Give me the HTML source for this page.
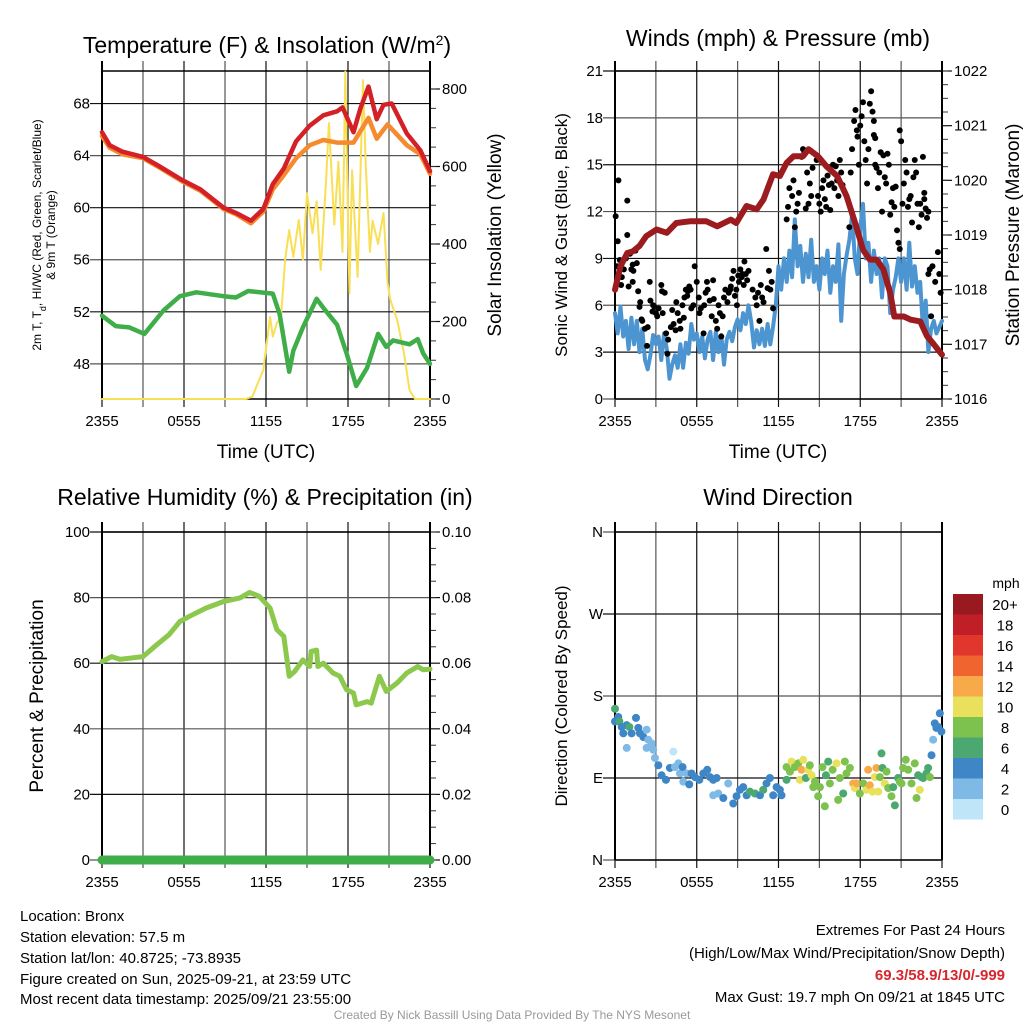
<!DOCTYPE html>
<html><head><meta charset="utf-8"><style>
html,body{margin:0;padding:0;background:#fff;}
svg{display:block;font-family:"Liberation Sans",sans-serif;}
</style></head><body>
<svg id="c" width="1024" height="1024" viewBox="0 0 1024 1024" xmlns="http://www.w3.org/2000/svg">
<rect width="1024" height="1024" fill="#fff"/>
<text x="267" y="53" font-size="23" text-anchor="middle">Temperature (F) &amp; Insolation (W/m<tspan baseline-shift="super" font-size="14">2</tspan>)</text>
<text x="778" y="46" font-size="23" text-anchor="middle">Winds (mph) &amp; Pressure (mb)</text>
<text x="265" y="505" font-size="23" text-anchor="middle">Relative Humidity (%) &amp; Precipitation (in)</text>
<text x="778" y="505" font-size="23" text-anchor="middle">Wind Direction</text>
<text x="266" y="458" font-size="19" text-anchor="middle">Time (UTC)</text>
<text x="778" y="458" font-size="19" text-anchor="middle">Time (UTC)</text>
<text font-size="12" text-anchor="middle" transform="translate(41,235) rotate(-90)">2m T, T<tspan baseline-shift="sub" font-size="9">d</tspan>, HI/WC (Red, Green, Scarlet/Blue)</text>
<text font-size="12" text-anchor="middle" transform="translate(55,235) rotate(-90)">&amp; 9m T (Orange)</text>
<text font-size="19" text-anchor="middle" transform="translate(501,235) rotate(-90)">Solar Insolation (Yellow)</text>
<text font-size="17" text-anchor="middle" transform="translate(567,235) rotate(-90)">Sonic Wind &amp; Gust (Blue, Black)</text>
<text font-size="19" text-anchor="middle" transform="translate(1019,235) rotate(-90)">Station Pressure (Maroon)</text>
<text font-size="19" text-anchor="middle" transform="translate(43,696) rotate(-90)">Percent &amp; Precipitation</text>
<text font-size="17" text-anchor="middle" transform="translate(567,696) rotate(-90)">Direction (Colored By Speed)</text>
<g font-size="15">
<text x="20" y="921">Location: Bronx</text>
<text x="20" y="942">Station elevation: 57.5 m</text>
<text x="20" y="963">Station lat/lon: 40.8725; -73.8935</text>
<text x="20" y="984">Figure created on Sun, 2025-09-21, at 23:59 UTC</text>
<text x="20" y="1004">Most recent data timestamp: 2025/09/21 23:55:00</text>
</g>
<g font-size="15" text-anchor="end">
<text x="1005" y="935">Extremes For Past 24 Hours</text>
<text x="1005" y="958">(High/Low/Max Wind/Precipitation/Snow Depth)</text>
<text x="1005" y="980" fill="#d7262c" font-weight="bold">69.3/58.9/13/0/-999</text>
<text x="1005" y="1002">Max Gust: 19.7 mph On 09/21 at 1845 UTC</text>
</g>
<text x="512" y="1019" font-size="12" fill="#999" text-anchor="middle">Created By Nick Bassill Using Data Provided By The NYS Mesonet</text>
</svg>
<script>
// ---- data ----
const xTickLabels = ["2355","0555","1155","1755","2355"];
const tempTicks = [48,52,56,60,64,68];
const solarTicks = [0,200,400,600,800];
const windTicks = [0,3,6,9,12,15,18,21];
const presTicks = [1016,1017,1018,1019,1020,1021,1022];
const rhTicks = [0,20,40,60,80,100];
const precTicks = ["0.00","0.02","0.04","0.06","0.08","0.10"];
const dirTicks = ["N","E","S","W","N"];
const speedBins = ["0","2","4","6","8","10","12","14","16","18","20+"];
const speedColors = ["#bfe5f8","#7fb9e6","#3e86c6","#4aa870","#7dc24e","#e9e05c","#f8aa4a","#f0652f","#e0362b","#c01f28","#981a1e"];

const tRedT = [0,0.56,1.5,3,4,5.9,7.2,8.9,9.8,10.9,11.8,12.5,13.3,14.2,15.2,16.2,17.2,17.6,18.4,18.9,19.5,20.1,20.6,21.2,22.3,23.3,24];
const tRedV = [65.8,64.8,64.3,63.9,63.3,62.1,61.4,60.0,59.6,59.0,59.9,61.8,63.0,65.1,66.3,67.1,67.4,67.7,65.8,67.6,69.3,66.8,67.9,68.0,65.7,64.4,62.8];
const tOrT = [0,0.56,1.5,3,4,5.9,7.2,8.9,9.8,10.9,11.8,12.5,13.3,14.2,15.2,16.2,17.2,18.4,19.5,20.1,20.9,22.3,23.3,24];
const tOrV = [65.5,64.6,64.1,63.8,63.2,62.0,61.3,59.9,59.5,58.8,59.7,61.4,62.5,63.8,64.8,65.2,65.0,65.0,66.9,65.3,66.4,64.8,64.1,62.6];
const tGrT = [0,1,2,3.1,4.5,5.7,6.9,8.9,9.8,10.7,12.5,13,13.7,14,14.7,15.7,16.2,17.2,17.9,18.6,19.4,20.2,20.8,21.3,22.5,23.1,23.5,24];
const tGrV = [51.7,50.9,50.8,50.3,52.1,53.2,53.5,53.2,53.1,53.6,53.4,51.8,47.4,49.0,50.8,53.0,52.3,51.0,48.8,46.3,47.7,50.3,49.3,49.8,49.5,49.9,48.8,48.0];
const solT = [0,10.5,11.0,11.8,12.3,12.5,12.8,13.1,13.4,13.7,14.0,14.4,14.7,15.0,15.4,15.7,16.0,16.4,16.6,17.0,17.3,17.6,17.8,18.1,18.3,18.7,19.1,19.3,19.6,19.8,20.2,20.6,20.9,21.1,21.6,22.1,22.5,22.9,24];
const solV = [0,0,6,75,212,161,196,212,359,436,367,462,359,531,428,510,333,565,712,450,612,380,845,273,590,315,823,600,380,460,400,480,300,255,204,118,23,0,0];

const presT = [0,0.4,0.9,1.3,1.8,2.3,3.05,3.8,4.5,5.5,6.7,7.5,8.5,8.9,9.65,10.4,10.9,11.6,12.1,12.6,13.1,13.8,14.2,14.9,15.5,16.3,17,17.7,18.2,18.7,19.2,19.7,20.2,20.5,21.2,21.7,22.4,22.9,23.4,24];
const presV = [1018.0,1018.43,1018.67,1018.70,1018.80,1018.98,1019.10,1019.04,1019.22,1019.25,1019.25,1019.16,1019.28,1019.22,1019.53,1019.47,1019.65,1020.11,1020.08,1020.32,1020.44,1020.44,1020.57,1020.44,1020.26,1020.08,1019.71,1019.16,1018.73,1018.55,1018.55,1018.37,1017.94,1017.51,1017.51,1017.45,1017.42,1017.15,1017.0,1016.81];
const windV = [5.5,4.2,5.9,4.0,5.0,3.2,5.2,3.5,5.0,3.0,4.5,2.5,1.9,2.8,4.1,3.5,4.0,2.5,4.2,3.2,1.3,2.2,2.8,2.0,3.5,2.0,3.6,2.9,4.8,3.8,4.2,3.0,4.0,2.6,3.8,4.3,2.5,4.3,3.0,4.1,2.2,3.8,4.3,3.7,4.6,5.1,4.4,5.5,4.8,6.0,4.9,3.3,4.4,3.5,4.5,3.4,4.8,3.5,4.6,6.0,8.5,7.0,9.0,7.5,9.5,7.8,11.5,8.5,9.8,7.5,9.3,7.8,10.2,7.5,8.5,7.0,9.0,8.0,9.5,6.8,8.5,7.5,9.9,5.0,8.0,9.2,10.2,11.8,9.0,8.0,11.0,12.5,9.0,10.0,7.5,9.5,8.0,9.0,6.5,9.0,8.5,5.5,7.0,7.8,9.0,7.5,9.0,7.0,10.0,7.2,8.5,6.8,7.5,4.5,6.3,3.0,4.5,5.0,4.2,4.6,5.0];
const gustT = [0.05,0.15,0.25,0.2,0.35,0.45,0.5,0.65,0.9,0.8,0.9,1.0,1.1,1.2,1.3,1.35,1.3,1.5,1.6,1.7,1.8,1.85,1.95,2.0,2.35,2.2,2.4,2.55,2.6,2.75,2.8,2.9,3.0,3.1,3.2,3.4,3.45,3.65,3.5,3.75,3.9,3.85,4.1,4.2,4.3,4.5,4.6,4.45,4.75,4.8,4.95,5.05,5.1,5.2,5.3,5.35,5.45,5.55,5.6,5.75,5.85,6.0,6.15,6.2,6.3,6.5,6.55,6.65,6.75,6.8,6.95,7.1,7.2,7.25,7.4,7.5,7.6,7.7,7.8,7.9,8.0,8.1,8.25,8.35,8.45,8.5,8.6,8.7,8.8,8.9,8.95,9.05,9.1,9.2,9.3,9.35,9.45,9.5,9.6,9.7,9.8,10.1,10.3,10.4,10.5,10.6,10.7,10.8,10.9,11.1,11.2,11.3,11.4,11.5,11.6,
12.6,12.7,12.8,13.0,13.1,13.2,13.3,13.4,13.5,13.7,13.8,13.9,14.0,14.1,14.2,14.3,14.4,14.5,
14.8,14.9,15.0,15.1,15.2,15.3,15.4,15.5,15.6,15.7,15.8,15.9,16.0,16.1,16.2,16.3,16.4,16.5,16.6,16.7,
17.2,17.3,17.4,17.55,17.65,17.75,17.8,17.9,18.0,18.1,18.2,18.3,18.4,18.5,18.6,18.7,18.8,18.9,19.0,19.1,
19.0,19.1,19.2,19.3,19.4,19.5,19.6,19.7,19.8,19.9,20.0,20.1,20.2,20.3,20.4,20.5,20.6,20.7,20.8,20.9,
20.9,21.0,21.1,21.2,21.3,21.4,21.5,21.6,21.7,21.8,21.9,22.0,22.1,22.2,22.3,22.4,22.5,22.6,22.7,
22.7,22.8,22.9,23.0,23.0,23.1,23.3,23.2,23.5,23.7,23.8,23.9];
const gustV = [11.7,8.5,14.0,10.1,8.9,7.3,7.8,8.3,12.7,9.0,10.5,7.2,9.3,8.3,8.6,8.2,7.5,9.5,8.7,6.9,5.9,6.2,5.1,5.0,3.4,4.5,4.6,7.5,6.3,5.6,6.0,5.9,5.5,5.3,5.8,7.3,6.9,6.8,5.5,4.2,3.8,2.9,4.6,5.7,4.8,6.2,5.5,4.4,5.0,4.5,6.0,5.2,6.5,7.0,6.6,6.9,7.2,7.0,5.8,6.0,8.5,7.5,6.5,5.5,5.8,4.2,6.0,6.8,7.5,7.0,6.3,5.3,7.6,6.4,5.0,4.5,6.0,5.5,4.0,5.3,6.5,7.0,6.2,6.8,7.0,7.2,7.7,8.2,6.6,7.0,6.0,7.9,7.5,8.3,7.8,8.0,7.3,8.8,8.0,7.6,8.2,7.0,6.5,6.0,6.8,5.0,7.3,6.5,6.2,9.6,7.1,8.2,7.0,7.5,5.8,11.5,12.3,13.5,13.0,14.0,11.0,12.0,12.5,13.2,15.5,16.0,15.8,12.2,14.5,12.5,13.8,13.0,14.8,15.3,13.0,12.5,12.0,13.5,14.0,12.8,12.3,14.3,13.7,12.1,13.8,15.0,13.5,14.9,14.0,13.0,15.3,14.5,13.7,11.0,14.5,16.0,17.8,18.5,17.2,16.8,15.0,17.5,18.1,19.0,16.5,15.3,13.8,16.0,18.9,19.7,18.4,17.8,16.7,16.9,15.0,14.8,13.5,14.5,15.8,12.0,15.6,14.2,13.8,15.7,15.0,11.8,12.6,13.5,12.3,13.6,10.8,10.0,9.6,17.2,16.5,12.5,13.8,15.3,14.5,12.3,12.8,13.0,11.3,14.2,15.3,14.5,12.5,11.0,12.5,11.8,15.5,13.2,12.8,12.2,11.6,12.0,8.0,8.3,8.5,5.3,7.5,9.4,8.0,6.8];

const rhT = [0,0.7,1.3,3,4,4.9,5.7,6.4,7.6,8.9,10.1,10.8,11.5,12.3,12.8,13.3,13.7,14.1,14.7,15.2,15.3,15.7,15.8,16.2,16.9,17.4,17.9,18.4,18.6,19.4,19.7,20.3,20.8,21.6,22.3,23.1,23.5,24];
const rhV = [60.5,62,61.2,62,65.6,68.7,72.7,74.3,76.8,78.8,79.9,81.6,80.4,76.8,70.2,68.2,56,57.5,61,59,63.6,64,59,60,57,56,51.9,50.9,47.3,48.3,47.8,56,51.4,54,57,59,58,58.2];
const precT = [0,24];
const precV = [0,0];

const dirT = [0,0,0.24,0.32,0.49,0.61,0.86,1.05,0.86,1.22,1.54,1.71,1.83,2.08,2.32,2.44,2.32,2.69,2.81,2.93,3.18,3.42,3.74,4.03,4.28,4.40,4.65,4.77,4.96,5.01,5.26,5.45,5.62,5.87,6.19,6.48,6.77,6.97,7.21,7.46,7.21,7.58,7.95,8.31,8.68,8.92,9.17,9.41,9.66,9.90,10.27,10.64,10.88,11.12,11.37,11.61,11.86,12.10,12.22,12.59,12.59,12.84,12.96,13.20,13.45,13.57,13.69,13.81,14.01,14.18,14.30,14.43,14.55,14.67,14.91,15.04,15.23,15.40,15.48,15.65,15.77,15.97,16.26,16.38,16.50,16.75,16.87,16.99,17.24,17.48,17.60,17.73,17.97,18.22,18.46,18.58,18.70,18.90,19.07,19.19,19.32,19.44,19.56,19.63,19.80,19.93,20.05,20.29,20.42,20.54,20.78,20.90,21.03,21.15,21.34,21.52,21.76,22.00,22.13,22.25,22.37,22.49,22.62,22.86,22.98,23.11,23.23,23.35,23.47,23.59,23.72,23.84,23.96];
const dirV = [166,152,157,152,146,139,148,146,123,139,156,145,139,135,143,132,123,128,121,112,104,93,88,101,119,102,106,95,102,86,95,83,95,91,88,95,99,91,88,90,71,73,68,84,62,70,77,80,71,75,73,71,77,84,90,71,80,77,71,88,102,97,108,102,106,88,99,110,90,99,104,93,80,86,70,80,102,59,93,108,84,99,106,66,90,73,108,95,101,84,79,84,73,84,77,99,82,75,91,101,75,91,117,101,84,97,79,70,80,60,90,86,84,101,110,99,84,106,68,93,77,91,90,95,101,91,115,132,150,145,146,161,141];
const dirS = [6,4,4,6,4,4,4,6,2,4,4,4,4,4,2,2,2,2,2,2,4,4,4,4,0,2,2,2,4,2,2,4,4,4,4,4,4,4,4,4,2,2,4,2,4,4,4,4,4,6,6,4,6,4,4,4,4,4,4,6,8,8,10,8,8,10,12,10,6,10,8,10,8,8,8,8,8,8,6,6,8,8,10,8,8,6,8,8,8,12,10,12,8,8,10,12,12,10,10,12,10,8,6,6,10,8,8,8,6,6,6,8,8,8,8,8,8,8,8,6,10,6,6,6,6,8,4,2,4,4,4,4,4];

// ---- drawing ----
const svg = document.getElementById('c');
const NS = 'http://www.w3.org/2000/svg';
function mk(tag, attrs, parent){const e=document.createElementNS(NS,tag);for(const k in attrs)e.setAttribute(k,attrs[k]);(parent||svg).appendChild(e);return e;}
function txt(x,y,s,size,anchor,parent){const e=mk('text',{x:x,y:y,'font-size':size,'text-anchor':anchor},parent);e.textContent=s;return e;}

const P = {
 temp:{l:102,r:430,t:71,b:399},
 wind:{l:615,r:942,t:71,b:399},
 rh:{l:102,r:430,t:532,b:860},
 dir:{l:615,r:942,t:532,b:860}
};
function xs(p,t){return p.l+(t/24)*(p.r-p.l);}
function lin(p,v,lo,hi){return p.b-(v-lo)/(hi-lo)*(p.b-p.t);}
const yTemp=v=>lin(P.temp,v,45.3,70.5);
const ySol=v=>lin(P.temp,v,0,800*(399-71)/(399-89));
const yWind=v=>lin(P.wind,v,0,21);
const yPres=v=>lin(P.wind,v,1016,1022);
const yRh=v=>lin(P.rh,v,0,100);
const yPrec=v=>lin(P.rh,v,0,0.1);
const yDir=v=>lin(P.dir,v,0,360);

function frame(p,name,hTicks,hy,hLabels,rTicks,ry,rLabels){
 const g=mk('g',{});
 
 
 for(let i=0;i<=8;i++){const x=xs(p,i*3);mk('line',{x1:x,x2:x,y1:p.t-10,y2:p.b+(i%2==0?0:8),stroke:i%2?'#555':'#111','stroke-width':1.2},g);}
 for(let i=0;i<5;i++){const x=xs(p,i*6);mk('line',{x1:x,x2:x,y1:p.b,y2:p.b+8,stroke:'#111','stroke-width':1.2},g);
  txt(x,p.b+27,xTickLabels[i],15,'middle',g);}
 hTicks.forEach((v,i)=>{const y=hy(v);mk('line',{x1:p.l-12,x2:p.r,y1:y,y2:y,stroke:i%2?'#111':'#555','stroke-width':1.2},g);
  txt(p.l-12,y+5,hLabels[i],15,'end',g);});
 rTicks.forEach((v,i)=>{const y=ry(v);mk('line',{x1:p.r,x2:p.r+10,y1:y,y2:y,stroke:'#111','stroke-width':1.2},g);
  txt(p.r+12,y+5,rLabels[i],15,'start',g);});
 for(let k=0;k<=(rTicks.length-1)*4;k++){const y=ry(rTicks[0])+(ry(rTicks[rTicks.length-1])-ry(rTicks[0]))*k/((rTicks.length-1)*4);
  mk('line',{x1:p.r,x2:p.r+6,y1:y,y2:y,stroke:'#333','stroke-width':1},g);}
 mk('line',{x1:p.l,x2:p.l,y1:p.t-10,y2:p.b,stroke:'#000','stroke-width':2},g);
 mk('line',{x1:p.r,x2:p.r,y1:p.t-10,y2:p.b,stroke:'#000','stroke-width':2},g);
 mk('line',{x1:p.l,x2:p.r,y1:p.t,y2:p.t,stroke:'#000','stroke-width':1.5},g);
 mk('line',{x1:p.l,x2:p.r,y1:p.b,y2:p.b,stroke:'#000','stroke-width':1.5},g);
}
function pline(p,T,V,yf,color,w,name){
 let d='';T.forEach((t,i)=>{d+=(i?'L':'M')+xs(p,t).toFixed(1)+','+yf(V[i]).toFixed(1);});
 const e=mk('path',{d:d,fill:'none',stroke:color,'stroke-width':w,'stroke-linejoin':'round','stroke-linecap':'round'});
 
 
}

frame(P.temp,'temp',tempTicks,yTemp,tempTicks.map(String),solarTicks,ySol,solarTicks.map(String));
frame(P.wind,'wind',windTicks,yWind,windTicks.map(String),presTicks,yPres,presTicks.map(String));
frame(P.rh,'rh',rhTicks,yRh,rhTicks.map(String),precTicks.map(Number),yPrec,precTicks);
frame(P.dir,'dir',[0,90,180,270,360],yDir,dirTicks,[],yDir,[]);

pline(P.temp,solT,solV,ySol,'#f8df55',2,'solar-insolation-line');
pline(P.temp,tOrT,tOrV,yTemp,'#f58a2e',4.5,'temp-9m-line');
pline(P.temp,tRedT,tRedV,yTemp,'#d42027',4.5,'temp-2m-line');
pline(P.temp,tGrT,tGrV,yTemp,'#3fae49',4.5,'dewpoint-line');

const windT = windV.map((v,i)=>i*24/(windV.length-1));
pline(P.wind,windT,windV,yWind,'#4d95d0',4,'sonic-wind-line');
gustT.forEach((t,i)=>{
 const c=mk('circle',{cx:xs(P.wind,t),cy:yWind(gustV[i]),r:3,fill:'#000'});
 
 
});
pline(P.wind,presT,presV,yPres,'#9b1b1e',6,'pressure-line');

pline(P.rh,rhT,rhV,yRh,'#8cc84b',5,'relative-humidity-line');
pline(P.rh,precT,precV,yPrec,'#3fae49',9,'precipitation-line');

dirT.forEach((t,i)=>{
 const c=mk('circle',{cx:xs(P.dir,t),cy:yDir(dirV[i]),r:4,fill:speedColors[Math.min(10,Math.floor(dirS[i]/2))]});
 
 
});

const lg=mk('g',{});


txt(1006,588,'mph',14,'middle',lg);
for(let i=0;i<speedBins.length;i++){
 const k=speedBins.length-1-i;const y=594+i*20.5;
 const r=mk('rect',{x:953,y:y,width:30,height:20.5,fill:speedColors[k]},lg);
 
 
 txt(1005,y+16,speedBins[k],15,'middle',lg);
}
</script>
</body></html>
